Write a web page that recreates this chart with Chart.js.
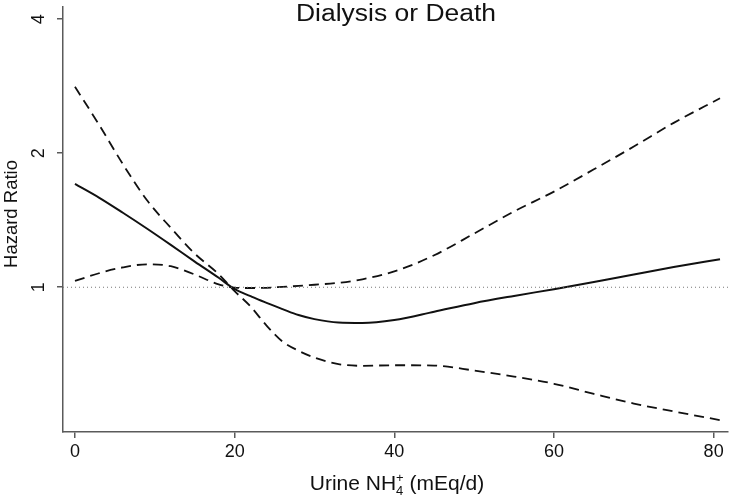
<!DOCTYPE html>
<html>
<head>
<meta charset="utf-8">
<script src="https://cdn.jsdelivr.net/npm/chart.js@4"></script>
<style>
  html, body { margin: 0; padding: 0; background: #fff; }
  #wrap { width: 733px; height: 500px; position: relative; }
</style>
</head>
<body>
<div id="wrap"><canvas id="myChart"></canvas></div>
<script>
// urine NH4+ (mEq/d) and hazard ratios
const xValues = [0, 3, 6, 9, 12, 15, 18, 20, 22, 24, 26, 28, 30, 33, 36, 40, 45, 50, 55, 60, 65, 70, 75, 80.8];
const hrValues = [1.706, 1.59, 1.47, 1.355, 1.245, 1.142, 1.05, 0.99, 0.955, 0.922, 0.893, 0.866, 0.848, 0.833, 0.831, 0.844, 0.881, 0.921, 0.956, 0.99, 1.027, 1.068, 1.11, 1.156];
const boundA = [2.82, 2.32, 1.89, 1.57, 1.36, 1.19, 1.07, 0.98, 0.905, 0.82, 0.755, 0.72, 0.695, 0.672, 0.666, 0.668, 0.667, 0.65, 0.63, 0.607, 0.576, 0.548, 0.526, 0.503];
const boundB = [1.033, 1.075, 1.108, 1.126, 1.115, 1.068, 1.015, 0.998, 0.996, 0.997, 1.002, 1.007, 1.013, 1.023, 1.042, 1.085, 1.18, 1.32, 1.48, 1.64, 1.84, 2.07, 2.34, 2.657];
const xTicks = [0, 20, 40, 60, 80];
const yTicks = [1, 2, 4];
const refValue = 1;

const FONT = '"Liberation Sans", Arial, Helvetica, sans-serif';
const AXIS = '#5a5a5a';

function pts(ys) {
  return xValues.map((x, i) => ({ x: x, y: ys[i] }));
}

const textPlugin = {
  id: 'texts',
  afterDraw(chart) {
    const ctx = chart.ctx;
    const ys = chart.scales.y;
    ctx.save();
    ctx.fillStyle = '#111';

    // title sits inside the plot, a bit wide
    ctx.save();
    ctx.font = '23px ' + FONT;
    ctx.textAlign = 'center';
    ctx.textBaseline = 'alphabetic';
    const tw = ctx.measureText('Dialysis or Death').width;
    ctx.translate(396, 21);
    ctx.scale(200 / tw, 1);
    ctx.fillText('Dialysis or Death', 0, 0);
    ctx.restore();

    // rotated y tick labels
    ctx.font = '18px ' + FONT;
    yTicks.forEach(v => {
      const py = ys.getPixelForValue(v);
      ctx.save();
      ctx.translate(39, py);
      ctx.rotate(-Math.PI / 2);
      ctx.textAlign = 'center';
      ctx.textBaseline = 'middle';
      ctx.fillText(String(v), 0, 0);
      ctx.restore();
    });

    // y title
    ctx.save();
    ctx.font = '18.5px ' + FONT;
    ctx.translate(12, 214);
    ctx.rotate(-Math.PI / 2);
    ctx.textAlign = 'center';
    ctx.textBaseline = 'middle';
    ctx.fillText('Hazard Ratio', 0, 0);
    ctx.restore();

    // x title with sub/superscript
    const main = '21px ' + FONT;
    const small = '13px ' + FONT;
    const parts = [['Urine NH', main, 0], ['4', small, 5], ['+', small, -8], [' (mEq/d)', main, 0]];
    let total = 0;
    parts.forEach((p, i) => { if (i === 1) return; ctx.font = p[1]; total += ctx.measureText(p[0]).width; });
    let cx = 397 - total / 2;
    const base = 490;
    ctx.textAlign = 'left';
    ctx.textBaseline = 'alphabetic';
    parts.forEach((p, i) => {
      ctx.font = p[1];
      ctx.fillText(p[0], cx, base + p[2]);
      if (i === 1) return; // sub and sup stacked
      cx += ctx.measureText(p[0]).width;
    });
    ctx.restore();
  }
};

new Chart('myChart', {
  type: 'line',
  data: {
    datasets: [
      {
        data: [{ x: -2, y: refValue }, { x: 82, y: refValue }],
        borderColor: '#777',
        borderWidth: 1.2,
        borderDash: [1, 3],
        pointRadius: 0
      },
      {
        data: pts(boundA),
        borderColor: '#111',
        borderWidth: 1.8,
        borderDash: [10, 6],
        pointRadius: 0,
        cubicInterpolationMode: 'monotone'
      },
      {
        data: pts(boundB),
        borderColor: '#111',
        borderWidth: 1.8,
        borderDash: [10, 6],
        pointRadius: 0,
        cubicInterpolationMode: 'monotone'
      },
      {
        data: pts(hrValues),
        borderColor: '#111',
        borderWidth: 2,
        pointRadius: 0,
        cubicInterpolationMode: 'monotone'
      }
    ]
  },
  options: {
    responsive: true,
    maintainAspectRatio: false,
    animation: false,
    layout: { padding: { top: 7, right: 5, left: 0, bottom: 0 } },
    plugins: { legend: { display: false }, tooltip: { enabled: false } },
    scales: {
      x: {
        type: 'linear',
        min: -1.5,
        max: 81.8,
        afterBuildTicks: s => { s.ticks = xTicks.map(v => ({ value: v })); },
        afterFit: s => { s.height = 68; },
        grid: { display: true, drawOnChartArea: false, drawTicks: true, tickLength: 6, color: AXIS, lineWidth: 1.5 },
        border: { display: true, color: AXIS, width: 1.5 },
        ticks: { color: '#111', font: { family: FONT, size: 18 }, padding: 3, maxRotation: 0 }
      },
      y: {
        type: 'logarithmic',
        min: 0.473,
        max: 4.26,
        afterBuildTicks: s => { s.ticks = yTicks.map(v => ({ value: v })); },
        afterFit: s => { s.width = 63; },
        grid: { display: true, drawOnChartArea: false, drawTicks: true, tickLength: 6, color: AXIS, lineWidth: 1.5 },
        border: { display: true, color: AXIS, width: 1.5 },
        ticks: { display: false }
      }
    }
  },
  plugins: [textPlugin]
});
</script>
</body>
</html>
